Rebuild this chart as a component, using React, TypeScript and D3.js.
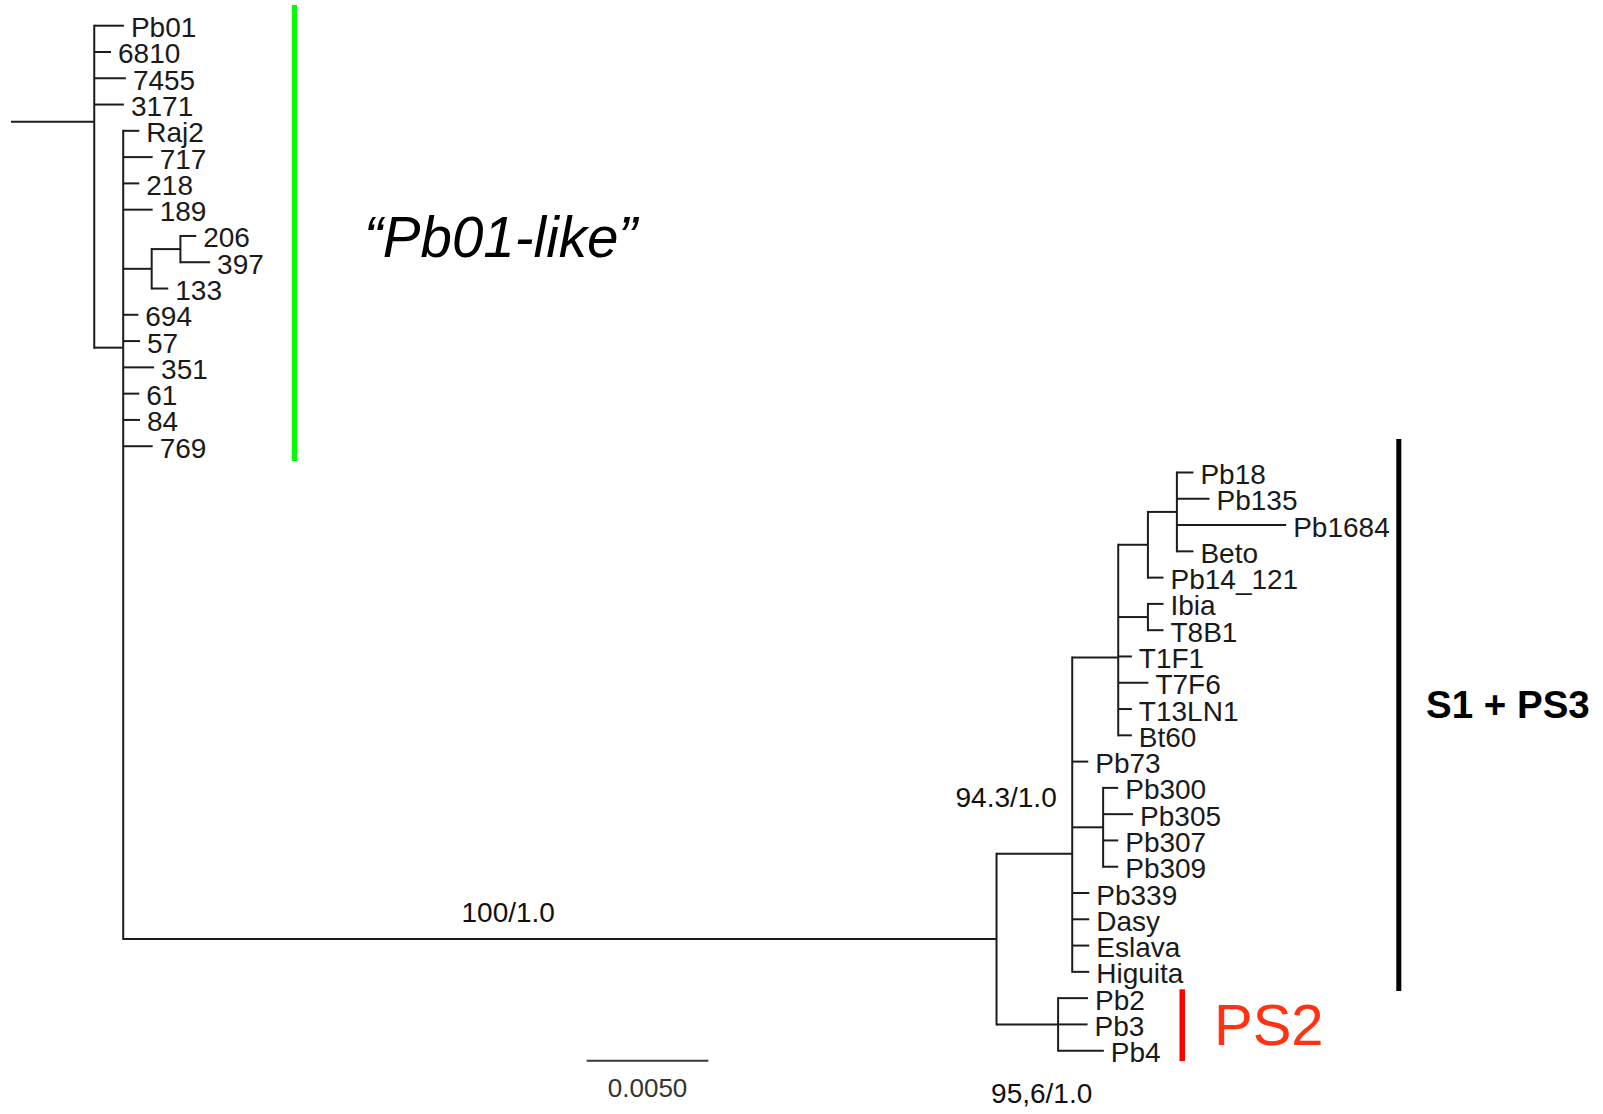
import React from "react";
import * as d3 from "d3";

// [node, parent, branch length (substitutions/site)]
type Edge = [string, string | null, number];

const rootEdges: Edge[] = [
  ["root", null, 0.00342],
  ["Pb01", "root", 0.00122],
  ["6810", "root", 0.00069],
  ["7455", "root", 0.0013],
  ["3171", "root", 0.00122],
  ["I1", "root", 0.00119],
];

const pb01LikeEdges: Edge[] = [
  ["Raj2", "I1", 0.00066],
  ["717", "I1", 0.00121],
  ["218", "I1", 0.00066],
  ["189", "I1", 0.00121],
  ["C1", "I1", 0.00117],
  ["C2", "C1", 0.00118],
  ["206", "C2", 0.00065],
  ["397", "C2", 0.00122],
  ["133", "C1", 0.00068],
  ["694", "I1", 0.00062],
  ["57", "I1", 0.00069],
  ["351", "I1", 0.00127],
  ["61", "I1", 0.00066],
  ["84", "I1", 0.00069],
  ["769", "I1", 0.00121],
  ["A", "I1", 0.03588],
];

const s1ps3Edges: Edge[] = [
  ["B", "A", 0.00311],
  ["D", "B", 0.00189],
  ["X", "D", 0.00122],
  ["Y", "X", 0.00119],
  ["Pb18", "Y", 0.00068],
  ["Pb135", "Y", 0.00134],
  ["Pb1684", "Y", 0.00449],
  ["Beto", "Y", 0.00068],
  ["Pb14_121", "X", 0.00064],
  ["IT", "D", 0.00122],
  ["Ibia", "IT", 0.00064],
  ["T8B1", "IT", 0.00064],
  ["T1F1", "D", 0.00056],
  ["T7F6", "D", 0.00124],
  ["T13LN1", "D", 0.00056],
  ["Bt60", "D", 0.00056],
  ["Pb73", "B", 0.00066],
  ["P3", "B", 0.00127],
  ["Pb300", "P3", 0.00062],
  ["Pb305", "P3", 0.00123],
  ["Pb307", "P3", 0.00062],
  ["Pb309", "P3", 0.00062],
  ["Pb339", "B", 0.0007],
  ["Dasy", "B", 0.0007],
  ["Eslava", "B", 0.0007],
  ["Higuita", "B", 0.0007],
];

const ps2Edges: Edge[] = [
  ["PS2n", "A", 0.00253],
  ["Pb2", "PS2n", 0.00123],
  ["Pb3", "PS2n", 0.00121],
  ["Pb4", "PS2n", 0.00188],
];

const supportLabels: { node: string; text: string }[] = [
  { node: "A", text: "100/1.0" },
  { node: "B", text: "94.3/1.0" },
  { node: "PS2n", text: "95,6/1.0" },
];

const scaleBarValue = 0.005;
const scaleBarLabel = "0.0050";

const W = 1603;
const H = 1114;
const FONT = "'Liberation Sans', Arial, Helvetica, sans-serif";
const LINE = "#1c1c1c";

type Pos = { x: number; y: number };

export default function App() {
  const edges = [...rootEdges, ...pb01LikeEdges, ...s1ps3Edges, ...ps2Edges];
  const root = d3
    .stratify<Edge>()
    .id((d) => d[0])
    .parentId((d) => d[1])(edges);

  const leaves = root.leaves();
  const xScale = d3.scaleLinear().domain([0, 0.01]).range([11, 11 + 243.4]);
  const yScale = d3
    .scaleLinear()
    .domain([0, leaves.length - 1])
    .range([25.7, 1050.7]);

  const pos = new Map<string, Pos>();
  const depth = new Map<string, number>();
  root.eachBefore((n) => {
    const len = n.data[2];
    const pd = n.parent ? depth.get(n.parent.id as string)! : 0;
    depth.set(n.id as string, pd + len);
  });
  leaves.forEach((l, i) => {
    pos.set(l.id as string, { x: xScale(depth.get(l.id as string)!), y: yScale(i) });
  });
  root.eachAfter((n) => {
    if (n.children) {
      const ys = n.children.map((c) => pos.get(c.id as string)!.y);
      pos.set(n.id as string, { x: xScale(depth.get(n.id as string)!), y: d3.mean(ys)! });
    }
  });

  const lines: JSX.Element[] = [];
  root.each((n) => {
    const p = pos.get(n.id as string)!;
    const px = n.parent ? pos.get(n.parent.id as string)!.x : xScale(0);
    lines.push(
      <line key={"h" + n.id} x1={px} x2={p.x} y1={p.y} y2={p.y} stroke={LINE} strokeWidth={2} />
    );
    if (n.children) {
      const ys = n.children.map((c) => pos.get(c.id as string)!.y);
      lines.push(
        <line
          key={"v" + n.id}
          x1={p.x}
          x2={p.x}
          y1={d3.min(ys)! - 1}
          y2={d3.max(ys)! + 1}
          stroke={LINE}
          strokeWidth={2}
        />
      );
    }
  });

  const pA = pos.get("A")!;
  const pB = pos.get("B")!;
  const pP = pos.get("PS2n")!;
  const supportPos: Record<string, { x: number; y: number; anchor: string }> = {
    A: { x: pA.x - 535, y: pA.y - 17.5, anchor: "start" },
    B: { x: pB.x - 15.5, y: pB.y - 46.5, anchor: "end" },
    PS2n: { x: pP.x - 67, y: pP.y + 79, anchor: "start" },
  };

  const sbX0 = 586.7;
  const sbLen = xScale(scaleBarValue) - xScale(0);

  return (
    <svg
      width={W}
      height={H}
      style={{ position: "absolute", left: 0, top: 0, background: "#fff" }}
      fontFamily={FONT}
    >
      <rect width={W} height={H} fill="#fff" />
      {lines}
      {leaves.map((l) => {
        const p = pos.get(l.id as string)!;
        return (
          <text key={"t" + l.id} x={p.x + 7} y={p.y + 11.5} fontSize={28} fill="#1a1a1a">
            {l.id}
          </text>
        );
      })}
      {supportLabels.map((s) => {
        const sp = supportPos[s.node];
        return (
          <text key={"s" + s.node} x={sp.x} y={sp.y} fontSize={28} fill="#111" textAnchor={sp.anchor}>
            {s.text}
          </text>
        );
      })}
      <line x1={sbX0} x2={sbX0 + sbLen} y1={1060.7} y2={1060.7} stroke="#3a3a3a" strokeWidth={2} />
      <text x={sbX0 + sbLen / 2} y={1097.3} fontSize={26} fill="#333" textAnchor="middle">
        {scaleBarLabel}
      </text>
      <rect x={292} y={5} width={5} height={456} fill="#00ff00" />
      <text x={364} y={256.7} fontSize={56.5} fontStyle="italic" fill="#000">
        {"\u201CPb01-like\u201D"}
      </text>
      <rect x={1396.3} y={439} width={5} height={552} fill="#000" />
      <text x={1426} y={718.3} fontSize={38.5} fontWeight="bold" fill="#000">
        S1 + PS3
      </text>
      <rect x={1179.5} y={989.3} width={5.5} height={71.7} fill="#ff0000" />
      <text x={1214} y={1045} fontSize={58} fill="#ff3311">
        PS2
      </text>
    </svg>
  );
}
